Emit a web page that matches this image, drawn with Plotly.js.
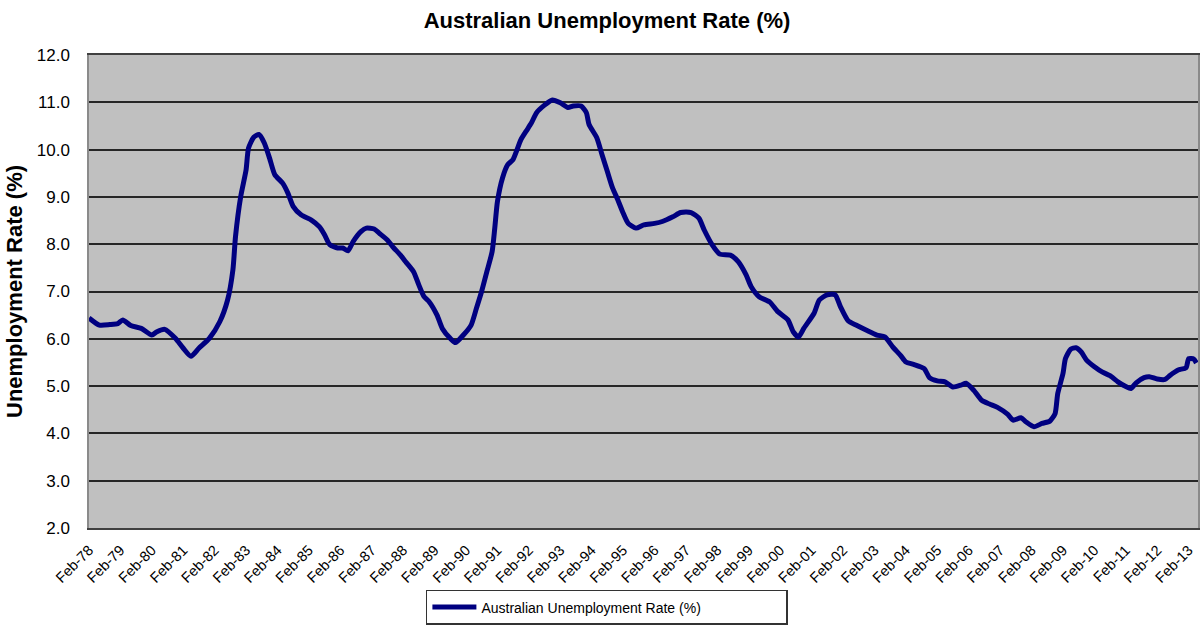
<!DOCTYPE html>
<html>
<head>
<meta charset="utf-8">
<script src="https://cdn.plot.ly/plotly-3.0.1.min.js"></script>
<style>
html,body{margin:0;padding:0;background:#fff;}
#chart{width:1202px;height:628px;}
</style>
</head>
<body>
<div id="chart"></div>
<script>
const chartTitle = "Australian Unemployment Rate (%)";
const yAxisTitle = "Unemployment Rate (%)";
const seriesName = "Australian Unemployment Rate (%)";

const months = [
"1978-02","1978-06","1978-10","1979-01","1979-03","1979-06","1979-10","1980-02","1980-04","1980-07",
"1980-11","1981-02","1981-05","1981-08","1981-12","1982-04","1982-07","1982-09","1982-10","1982-12",
"1983-02","1983-03","1983-05","1983-07","1983-09","1983-11","1984-01","1984-04","1984-06","1984-08",
"1984-11","1985-03","1985-06","1985-08","1985-10","1986-01","1986-03","1986-05","1986-07","1986-10",
"1986-12","1987-03","1987-05","1987-08","1987-10","1988-01","1988-03","1988-06","1988-08","1988-10",
"1988-12","1989-03","1989-05","1989-08","1989-10","1990-01","1990-04","1990-06","1990-08","1990-10",
"1990-12","1991-01","1991-02","1991-04","1991-06","1991-08","1991-11","1992-01","1992-03","1992-05",
"1992-08","1992-11","1993-02","1993-05","1993-07","1993-10","1993-12","1994-01","1994-04","1994-06",
"1994-08","1994-10","1994-12","1995-02","1995-04","1995-07","1995-10","1996-02","1996-05","1996-09",
"1996-12","1997-04","1997-07","1997-09","1997-12","1998-03","1998-07","1998-10","1999-01","1999-03",
"1999-06","1999-10","2000-01","2000-05","2000-07","2000-09","2000-11","2001-03","2001-05","2001-08",
"2001-11","2002-01","2002-04","2002-07","2002-11","2003-03","2003-06","2003-09","2003-12","2004-02",
"2004-05","2004-09","2004-11","2005-02","2005-05","2005-08","2005-11","2006-01","2006-04","2006-07",
"2006-10","2007-01","2007-05","2007-07","2007-10","2007-12","2008-03","2008-06","2008-09","2008-11",
"2008-12","2009-02","2009-03","2009-05","2009-07","2009-09","2009-11","2010-02","2010-05","2010-08",
"2010-11","2011-02","2011-04","2011-06","2011-09","2011-11","2012-02","2012-05","2012-07","2012-10",
"2013-01","2013-02","2013-04","2013-05"
];

const rates = [
6.44,6.29,6.30,6.32,6.40,6.28,6.22,6.08,6.15,6.20,
6.01,5.80,5.63,5.80,6.01,6.36,6.82,7.46,8.16,9.01,
9.57,10.03,10.26,10.32,10.14,9.82,9.47,9.29,9.08,8.80,
8.62,8.51,8.37,8.20,7.99,7.92,7.92,7.86,8.06,8.27,
8.34,8.32,8.23,8.09,7.95,7.77,7.63,7.42,7.14,6.89,
6.78,6.50,6.22,6.01,5.92,6.08,6.29,6.64,7.00,7.42,
7.84,8.34,8.90,9.40,9.68,9.79,10.21,10.39,10.56,10.78,
10.94,11.05,10.99,10.89,10.92,10.92,10.78,10.53,10.25,9.89,
9.54,9.19,8.94,8.66,8.44,8.34,8.41,8.44,8.48,8.58,
8.67,8.67,8.55,8.30,7.99,7.79,7.77,7.63,7.35,7.10,
6.89,6.78,6.58,6.40,6.15,6.04,6.22,6.54,6.82,6.93,
6.93,6.68,6.38,6.29,6.18,6.08,6.04,5.83,5.65,5.51,
5.46,5.37,5.18,5.11,5.09,4.98,5.02,5.06,4.91,4.70,
4.62,4.55,4.40,4.28,4.33,4.24,4.14,4.21,4.26,4.42,
4.84,5.27,5.58,5.78,5.81,5.72,5.55,5.41,5.30,5.22,
5.09,4.99,4.95,5.07,5.18,5.20,5.15,5.14,5.23,5.34,
5.39,5.58,5.57,5.49
];

const yTicks = [2,3,4,5,6,7,8,9,10,11,12];

const trace = {
  x: months.map(m => m + "-01"),
  y: rates,
  type: "scatter",
  mode: "lines",
  name: seriesName,
  line: {color: "#000080", width: 5, shape: "spline", smoothing: 0.6},
  hoverinfo: "x+y"
};

const layout = {
  width: 1202,
  height: 628,
  margin: {l: 89, r: 4, t: 55, b: 100, autoexpand: false},
  paper_bgcolor: "#ffffff",
  plot_bgcolor: "#c0c0c0",
  font: {family: "Liberation Sans, Arial, sans-serif", color: "#000"},
  title: {
    text: "<b>" + chartTitle + "</b>",
    font: {size: 22, family: "Liberation Sans, Arial, sans-serif", color: "#000"},
    x: 0.505, xanchor: "center", y: 0.968, yanchor: "middle"
  },
  xaxis: {
    type: "date",
    range: ["1978-02-01", "2013-05-20"],
    tick0: "1978-02-01",
    dtick: "M12",
    tickformat: "%b-%y",
    tickangle: -45,
    tickfont: {size: 14.5, color: "#000"},
    ticks: "",
    ticklabelstandoff: 6,
    automargin: false,
    showgrid: false,
    showline: true,
    linecolor: "#404040",
    linewidth: 2,
    mirror: true,
    zeroline: false
  },
  yaxis: {
    range: [2, 12],
    tickvals: yTicks,
    tickformat: ".1f",
    tickfont: {size: 17, color: "#000"},
    ticks: "",
    automargin: false,
    showgrid: true,
    gridcolor: "#262626",
    gridwidth: 1.5,
    showline: true,
    linecolor: "#8a8a8a",
    linewidth: 1.5,
    mirror: true,
    zeroline: false,
    ticklabelstandoff: 14,
    title: {text: "<b>" + yAxisTitle + "</b>", font: {size: 22, color: "#000"}, standoff: 8}
  },
  showlegend: true,
  legend: {
    orientation: "h",
    x: 0.467, xanchor: "center",
    y: -0.131, yanchor: "top",
    bgcolor: "#ffffff",
    bordercolor: "#333",
    borderwidth: 1.5,
    font: {size: 14, color: "#000"},
    itemwidth: 44,
    entrywidth: 300
  }
};

Plotly.newPlot("chart", [trace], layout, {displayModeBar: false, responsive: false});
</script>
</body>
</html>
